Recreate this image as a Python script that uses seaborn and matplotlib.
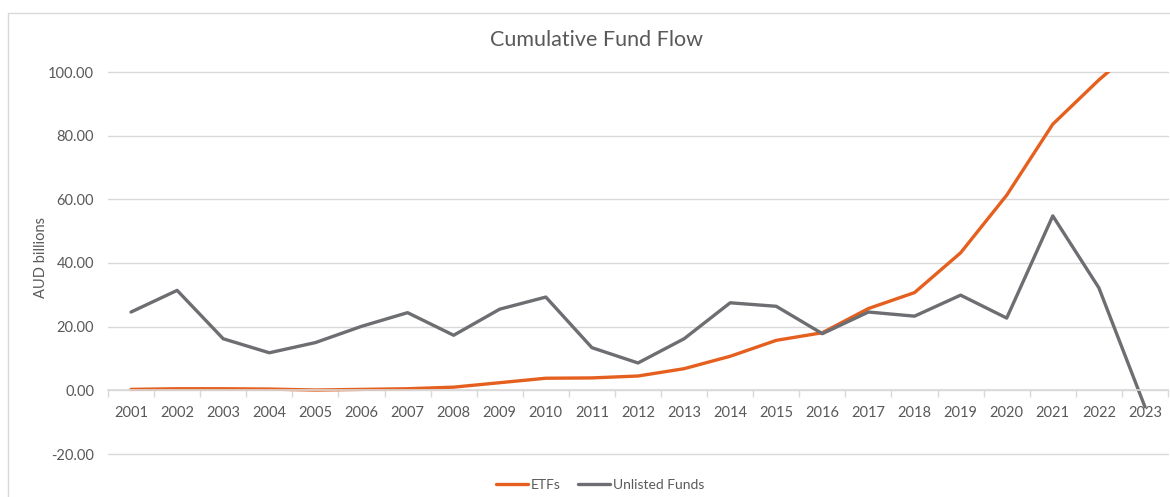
import matplotlib
matplotlib.use("Agg")
import matplotlib.pyplot as plt
import seaborn as sns
import pandas as pd
from matplotlib.patches import Rectangle

years = [str(y) for y in range(2001, 2024)]
etfs = [0.3, 0.5, 0.5, 0.4, 0.1, 0.3, 0.5, 1.0, 2.4, 3.8, 3.9, 4.5, 6.8,
        10.7, 15.7, 18.1, 25.7, 30.7, 43.2, 61.3, 83.6, 97.5, 110.0]
unlisted = [24.6, 31.4, 16.2, 11.8, 15.0, 20.1, 24.4, 17.3, 25.5, 29.3, 13.4,
            8.6, 16.2, 27.5, 26.4, 17.8, 24.6, 23.3, 29.9, 22.7, 54.8, 32.2, -5.2]
series_names = ["ETFs", "Unlisted Funds"]
colors = ["#E5601F", "#6D6E71"]
yticks = [-20, 0, 20, 40, 60, 80, 100]

df = pd.DataFrame({
    "Year": years * 2,
    "Value": etfs + unlisted,
    "Series": [series_names[0]] * len(years) + [series_names[1]] * len(years),
})

sns.set_theme(style="white")
plt.rcParams["font.family"] = ["Lato", "DejaVu Sans"]
text_color = "#595959"

fig = plt.figure(figsize=(11.7, 4.97), dpi=100)
ax = fig.add_axes([108 / 1170, (497 - 454) / 497, (1168 - 108) / 1170, (454 - 72) / 497])

sns.lineplot(data=df, x="Year", y="Value", hue="Series", palette=colors,
             linewidth=2.4, ax=ax, legend=True, sort=False)

ax.set_ylim(-20, 100)
ax.set_xlim(-0.5, len(years) - 0.5)
ax.set_yticks(yticks)
ax.set_yticklabels([f"{v:.2f}" for v in yticks], color=text_color, fontsize=10.5)
ax.yaxis.grid(True, color="#D9D9D9", linewidth=1)
for gl in ax.yaxis.get_gridlines():
    gl.set_clip_on(False)
ax.set_axisbelow(True)
for s in ["left", "right", "top"]:
    ax.spines[s].set_visible(False)
ax.spines["bottom"].set_position(("data", 0))
ax.spines["bottom"].set_color("#D9D9D9")
ax.spines["bottom"].set_linewidth(1.2)
ax.set_xticks(range(len(years)))
ax.set_xticklabels(years, color=text_color, fontsize=10.5)
ax.set_xticks([i - 0.5 for i in range(len(years) + 1)], minor=True)
ax.tick_params(axis="x", which="major", length=0, pad=11)
ax.tick_params(axis="x", which="minor", length=5, color="#D9D9D9", width=1, bottom=True)
ax.tick_params(axis="y", length=0, pad=10)
ax.set_xlabel("")
ax.set_ylabel("AUD billions", color=text_color, fontsize=10.5)
ax.yaxis.set_label_coords((48 - 108) / 1060, (454 - 258) / 382)

ax.legend_.remove()
handles, labels = ax.get_legend_handles_labels()
fig.legend(handles, labels, loc="center", bbox_to_anchor=(0.513, (497 - 485) / 497),
           ncol=2, frameon=False, fontsize=10, handlelength=2.3, handletextpad=0.2,
           columnspacing=1.3, labelcolor=text_color)

fig.text(0.51, (497 - 40) / 497, "Cumulative Fund Flow", ha="center", va="center",
         fontsize=15.5, color=text_color)

fig.patches.append(Rectangle((8 / 1170, -0.05), 1.2, (497 - 13) / 497 + 0.05,
                             transform=fig.transFigure, fill=False,
                             edgecolor="#D9D9D9", linewidth=1))

fig.savefig("out.png", dpi=100)
